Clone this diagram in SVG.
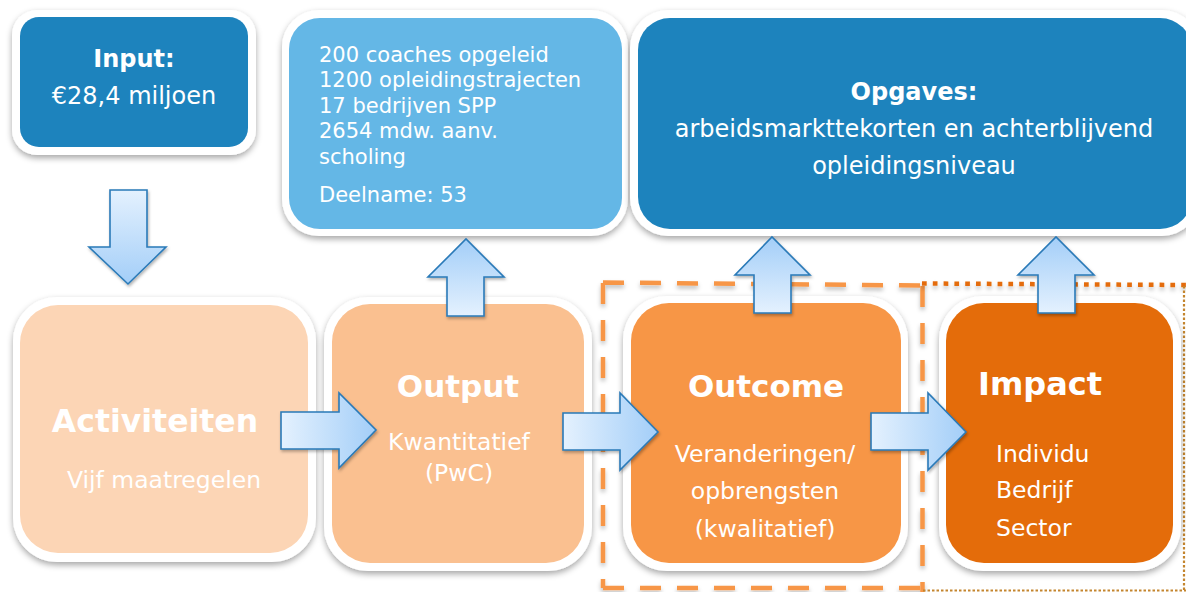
<svg xmlns="http://www.w3.org/2000/svg" width="1186" height="592" viewBox="0 0 1186 592">
<style>
  text { font-family: "DejaVu Sans", Verdana, sans-serif; fill: #ffffff; }
  .b { font-weight: bold; }
  .mid { text-anchor: middle; }
  .frame { fill: #ffffff; filter: url(#sh); }
  .arrow { stroke: #2a7ab8; stroke-width: 1.6; stroke-linejoin: miter; filter: url(#ash); }
  .dash { fill: none; stroke: #f79646; stroke-width: 4.5; stroke-dasharray: 21 16; filter: url(#lsh); }
  .dot { fill: none; stroke: #e46c0a; stroke-width: 4.5; stroke-dasharray: 4.7 6.1; filter: url(#lsh); }
  .thin { fill: none; stroke: #c4852e; stroke-width: 2.2; stroke-dasharray: 2.5 2; }
</style>
<defs>
  <filter id="sh" x="-10%" y="-10%" width="120%" height="125%">
    <feDropShadow dx="0" dy="3" stdDeviation="3" flood-color="#000" flood-opacity="0.35"/>
  </filter>
  <filter id="ash" x="-20%" y="-20%" width="140%" height="140%">
    <feDropShadow dx="1" dy="2" stdDeviation="1.5" flood-color="#000" flood-opacity="0.3"/>
  </filter>
  <filter id="lsh" filterUnits="userSpaceOnUse" x="0" y="0" width="1186" height="592">
    <feDropShadow dx="0" dy="3" stdDeviation="2" flood-color="#000" flood-opacity="0.25"/>
  </filter>
  <linearGradient id="gr" x1="0" y1="0" x2="1" y2="0">
    <stop offset="0" stop-color="#e4f1fe"/>
    <stop offset="1" stop-color="#a3cef8"/>
  </linearGradient>
  <linearGradient id="gu" x1="0" y1="1" x2="0" y2="0">
    <stop offset="0" stop-color="#e4f1fe"/>
    <stop offset="1" stop-color="#a3cef8"/>
  </linearGradient>
  <linearGradient id="gd" x1="0" y1="0" x2="0" y2="1">
    <stop offset="0" stop-color="#e4f1fe"/>
    <stop offset="1" stop-color="#a3cef8"/>
  </linearGradient>
</defs>
<rect width="1186" height="592" fill="#ffffff"/>

<g id="region-outlines">
  <path class="dash" d="M603,282.5 L921,285.5 M922.5,286 L922.5,592 M603,588 L922,588 M603,283 L603,588"/>
  <path class="dot" d="M922,283.5 L1186,285"/>
  <path class="thin" d="M1184,286 L1184,592 M923,590.5 L1186,590.5"/>
</g>

<g id="node-input">
  <rect class="frame" x="12" y="10" width="244" height="145" rx="25"/>
  <rect x="20" y="17" width="228" height="130" rx="19" fill="#1d83bd"/>
  <text class="b mid" x="134" y="67" font-size="24">Input:</text>
  <text class="mid" x="134" y="104" font-size="24">€28,4 miljoen</text>
</g>

<g id="node-data">
  <rect class="frame" x="282" y="10" width="346" height="226" rx="37"/>
  <rect x="289" y="18" width="333" height="211" rx="31" fill="#64b7e6"/>
  <text x="319" y="62" font-size="21">200 coaches opgeleid</text>
  <text x="319" y="87" font-size="21">1200 opleidingstrajecten</text>
  <text x="319" y="113" font-size="21">17 bedrijven SPP</text>
  <text x="319" y="138" font-size="21">2654 mdw. aanv.</text>
  <text x="319" y="164" font-size="21">scholing</text>
  <text x="319" y="202" font-size="21">Deelname: 53</text>
</g>

<g id="node-opgaves">
  <rect class="frame" x="630" y="10" width="570" height="226" rx="38"/>
  <rect x="638" y="18" width="554" height="211" rx="32" fill="#1d83bd"/>
  <text class="b mid" x="914" y="100" font-size="24">Opgaves:</text>
  <text class="mid" x="914" y="137" font-size="24">arbeidsmarkttekorten en achterblijvend</text>
  <text class="mid" x="914" y="174" font-size="24">opleidingsniveau</text>
</g>

<g id="node-activiteiten">
  <rect class="frame" x="13" y="297" width="303" height="265" rx="44"/>
  <rect x="20" y="305" width="288" height="248" rx="38" fill="#fcd5b5"/>
  <text class="b mid" x="155" y="432" font-size="31.5">Activiteiten</text>
  <text class="mid" x="164" y="488" font-size="23.5">Vijf maatregelen</text>
</g>

<g id="node-output">
  <rect class="frame" x="324" y="297" width="268" height="274" rx="44"/>
  <rect x="332" y="304" width="252" height="259" rx="38" fill="#fac090"/>
  <text class="b mid" x="458" y="397" font-size="31">Output</text>
  <text class="mid" x="459" y="450" font-size="23.5">Kwantitatief</text>
  <text class="mid" x="459" y="481" font-size="23.5">(PwC)</text>
</g>

<g id="node-outcome">
  <rect class="frame" x="623" y="296" width="285" height="275" rx="44"/>
  <rect x="631" y="303" width="270" height="260" rx="38" fill="#f79646"/>
  <text class="b mid" x="766" y="397" font-size="31">Outcome</text>
  <text class="mid" x="765" y="462" font-size="23.5">Veranderingen/</text>
  <text class="mid" x="765" y="499" font-size="23.5">opbrengsten</text>
  <text class="mid" x="765" y="537" font-size="23.5">(kwalitatief)</text>
</g>

<g id="node-impact">
  <rect class="frame" x="939" y="296" width="242" height="275" rx="44"/>
  <rect x="946" y="303" width="227" height="260" rx="38" fill="#e46c0a"/>
  <text class="b" x="978" y="395" font-size="32">Impact</text>
  <text x="996" y="462" font-size="23.5">Individu</text>
  <text x="996" y="498" font-size="23.5">Bedrijf</text>
  <text x="996" y="536" font-size="23.5">Sector</text>
</g>

<g id="connectors">
  <polygon class="arrow" fill="url(#gd)" points="110,190 147,190 147,247 166,247 128,284 89,247 110,247"/>
  <polygon class="arrow" fill="url(#gu)" points="447,316 484,316 484,277 504,277 466,239 428,277 447,277"/>
  <polygon class="arrow" fill="url(#gu)" points="754,313 791,313 791,275 810,275 772,237 735,275 754,275"/>
  <polygon class="arrow" fill="url(#gu)" points="1038,313 1075,313 1075,275 1094,275 1056,237 1018,275 1038,275"/>
  <polygon class="arrow" fill="url(#gr)" points="281,412 339,412 339,393 376,430 339,468 339,449 281,449"/>
  <polygon class="arrow" fill="url(#gr)" points="563,413 620,413 620,393 658,432 620,470 620,450 563,450"/>
  <polygon class="arrow" fill="url(#gr)" points="871,413 928,413 928,393 966,432 928,470 928,450 871,450"/>
</g>
</svg>
